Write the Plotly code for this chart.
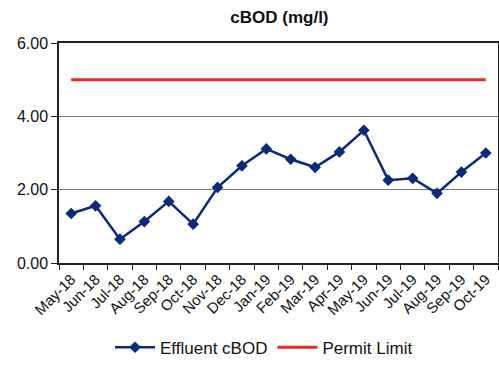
import plotly.graph_objects as go

months = ["May-18", "Jun-18", "Jul-18", "Aug-18", "Sep-18", "Oct-18", "Nov-18", "Dec-18",
          "Jan-19", "Feb-19", "Mar-19", "Apr-19", "May-19", "Jun-19", "Jul-19", "Aug-19",
          "Sep-19", "Oct-19"]
effluent_cbod = [1.35, 1.56, 0.65, 1.13, 1.68, 1.06, 2.06, 2.65, 3.11, 2.83, 2.61, 3.03,
                 3.62, 2.26, 2.31, 1.90, 2.48, 3.00]
permit_limit = [5.0] * len(months)

fig = go.Figure()
fig.add_trace(go.Scatter(
    x=months, y=effluent_cbod, name="Effluent cBOD", mode="lines+markers",
    line=dict(color="#0d2a78", width=2.5),
    marker=dict(symbol="diamond", size=9, color="#0d2a78"),
))
fig.add_trace(go.Scatter(
    x=months, y=permit_limit, name="Permit Limit", mode="lines",
    line=dict(color="#ee2a24", width=3),
))

fig.update_layout(
    width=499, height=374,
    margin=dict(l=59, r=1, t=43, b=111),
    paper_bgcolor="white", plot_bgcolor="white",
    font=dict(family="Liberation Sans, Arial, sans-serif", color="#111111"),
    title=dict(text="<b>cBOD (mg/l)</b>", x=0.56, xanchor="center", y=0.955, yanchor="middle",
               font=dict(size=17, color="#111111")),
    showlegend=True,
    legend=dict(orientation="h", x=0.467, xanchor="center", y=-0.385, yanchor="middle",
                font=dict(size=17, color="#111111"), itemwidth=40,
                traceorder="normal"),
)
fig.update_xaxes(
    type="category", range=[-0.5, len(months) - 0.5],
    tickangle=-45, tickfont=dict(size=15), automargin=False,
    showline=True, linecolor="#222222", linewidth=1.5, mirror=True,
    ticks="outside", tickson="boundaries", ticklen=5, tickcolor="#222222",
    showgrid=False,
)
fig.update_yaxes(
    range=[0, 6], tickvals=[0, 2, 4, 6], ticktext=["0.00", "2.00", "4.00", "6.00"],
    tickfont=dict(size=16), automargin=False,
    showline=True, linecolor="#222222", linewidth=1.5, mirror=True,
    ticks="outside", ticklen=6, tickcolor="#222222",
    showgrid=True, gridcolor="#777777", gridwidth=1.2, zeroline=False,
)

fig.write_html("out.html")
